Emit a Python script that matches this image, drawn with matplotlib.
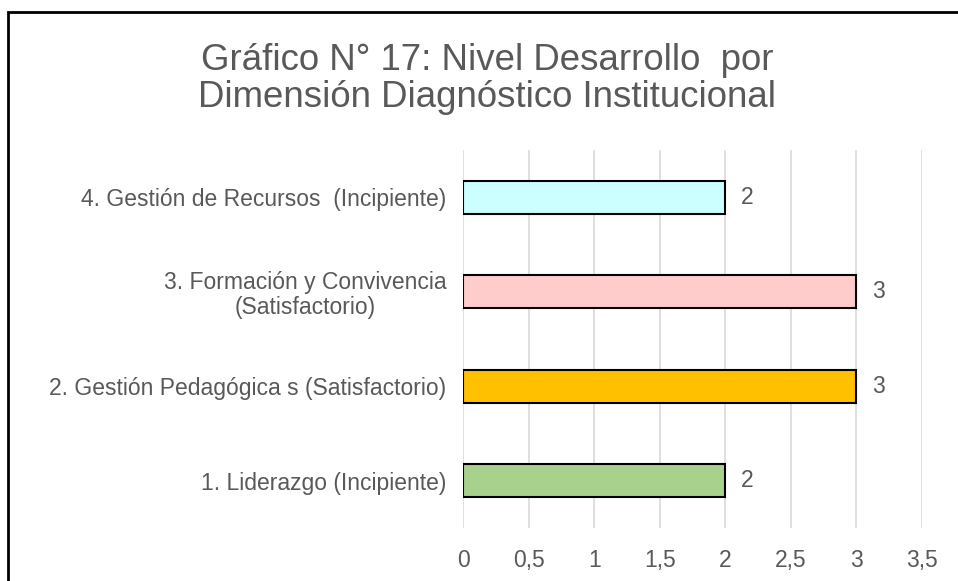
import matplotlib.pyplot as plt
from matplotlib.patches import Rectangle
from matplotlib.ticker import FuncFormatter

plt.rcParams['font.family'] = ['Liberation Sans', 'DejaVu Sans']

# data, bottom to top
categories = ["1. Liderazgo (Incipiente)",
              "2. Gestión Pedagógica s (Satisfactorio)",
              "3. Formación y Convivencia\n(Satisfactorio)",
              "4. Gestión de Recursos  (Incipiente)"]
values = [2, 3, 3, 2]
colors = ["#a9d18e", "#ffc000", "#ffcccc", "#ccffff"]
xticks = [0, 0.5, 1, 1.5, 2, 2.5, 3, 3.5]

text_col = "#595959"
fs = 16.5

fig = plt.figure(figsize=(9.58, 5.81), dpi=100)
ax = fig.add_axes([463 / 958, 1 - 528 / 581, (922 - 463) / 958, (528 - 150) / 581])

y = range(len(categories))
ax.barh(y, values, height=0.35, color=colors, edgecolor="black", linewidth=1.5, zorder=3)
for yi, v in zip(y, values):
    ax.text(v + 0.12, yi, str(v), va="center", ha="left", fontsize=fs, color=text_col)

ax.set_xlim(0, 3.5)
ax.set_ylim(-0.5, 3.5)
ax.set_xticks(xticks)
ax.xaxis.set_major_formatter(FuncFormatter(lambda v, p: ("%g" % v).replace(".", ",")))
ax.set_yticks(list(y))
ax.set_yticklabels(categories)
ax.tick_params(axis="y", length=0, pad=12, labelsize=fs, labelcolor=text_col)
ax.tick_params(axis="x", length=0, pad=15, labelsize=fs, labelcolor=text_col)
for lbl in ax.get_yticklabels():
    lbl.set_multialignment("center")
    lbl.set_linespacing(1.1)
ax.grid(axis="x", color="#d9d9d9", linewidth=1.2, zorder=0)
for s in ax.spines.values():
    s.set_visible(False)

fig.text(487 / 958, 1 - 79 / 581, "Gráfico N° 17: Nivel Desarrollo  por\nDimensión Diagnóstico Institucional",
         ha="center", va="center", fontsize=26.4, color=text_col, linespacing=1.1)

# outer chart frame (cut off at right and bottom)
fig.patches.append(Rectangle((8 / 958, -0.1), 1.2, 1 - 12 / 581 + 0.1, transform=fig.transFigure,
                             fill=False, edgecolor="black", linewidth=2))

fig.savefig("out.png", dpi=100)
